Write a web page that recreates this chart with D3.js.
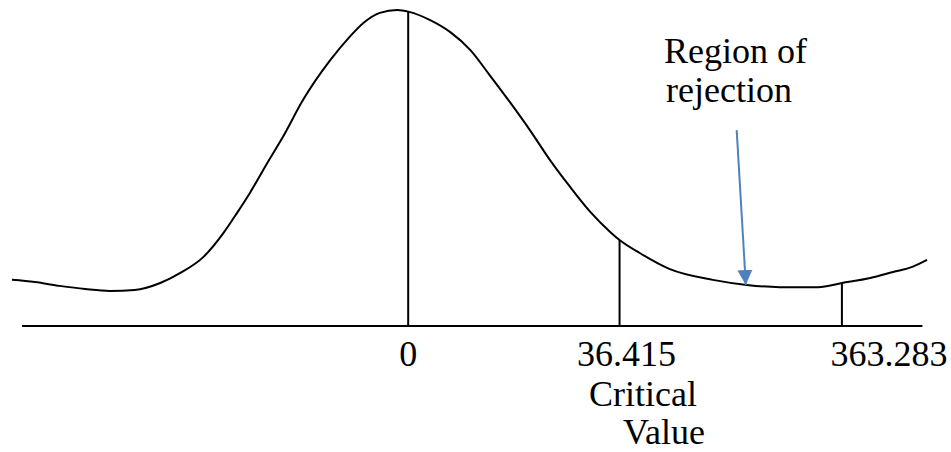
<!DOCTYPE html>
<html>
<head>
<meta charset="utf-8">
<script src="https://cdn.jsdelivr.net/npm/d3@7"></script>
<style>
  body { margin: 0; background: #fff; }
</style>
</head>
<body>
<div id="chart"></div>
<script>
// curve: position (0-100) and relative height (peak = 1)
const curvePos = [0, 2.5, 5.2, 8.0, 10.7, 13.4, 16.2, 18.4, 20.9, 23.1, 24.6, 26.0, 27.9, 29.6,
  31.8, 34.8, 36.9, 38.4, 40.2, 42.1, 43.4, 45.7, 47.9, 50.1, 52.2, 54.4, 56.6, 58.8, 61.0,
  63.2, 65.4, 66.4, 68.6, 71.9, 76.6, 80.3, 83.9, 88.1, 90.7, 93.8, 96.3, 98.4, 100];
const curveHeight = [0.146, 0.139, 0.127, 0.117, 0.111, 0.114, 0.136, 0.168, 0.218, 0.294,
  0.358, 0.421, 0.516, 0.598, 0.715, 0.842, 0.915, 0.959, 0.991, 1.000, 0.994, 0.968, 0.930,
  0.873, 0.794, 0.709, 0.620, 0.525, 0.440, 0.361, 0.297, 0.272, 0.231, 0.180, 0.146, 0.130,
  0.123, 0.123, 0.136, 0.152, 0.171, 0.187, 0.209];

// marked values on the axis
const markLabels = ["0", "36.415", "363.283"];
const markPos = [43.3, 66.4, 90.7];

const width = 951, height = 452;
const serif = "'Liberation Serif', 'Times New Roman', Times, 'DejaVu Serif', serif";

const svg = d3.select("#chart")
  .append("svg")
  .attr("width", width)
  .attr("height", height)
  .attr("font-family", serif)
  .attr("font-size", 36);

const x = d3.scaleLinear().domain([0, 100]).range([12, 927]);
const y = d3.scaleLinear().domain([0, 1]).range([326, 10]);

const curve = curvePos.map((p, i) => ({ pos: p, h: curveHeight[i] }));
const heightAt = d3.scaleLinear().domain(curvePos).range(curveHeight);

// axis line
svg.append("line")
  .attr("x1", x(1.1)).attr("x2", x(99.5))
  .attr("y1", y(0)).attr("y2", y(0))
  .attr("stroke", "#000")
  .attr("stroke-width", 2.2);

// drop lines from the curve
svg.selectAll(".drop")
  .data(markPos)
  .join("line")
  .attr("class", "drop")
  .attr("x1", d => x(d)).attr("x2", d => x(d))
  .attr("y1", y(0))
  .attr("y2", d => y(heightAt(d)))
  .attr("stroke", "#000")
  .attr("stroke-width", 2);

// the curve
const line = d3.line()
  .x(d => x(d.pos))
  .y(d => y(d.h))
  .curve(d3.curveMonotoneX);

svg.append("path")
  .datum(curve)
  .attr("d", line)
  .attr("fill", "none")
  .attr("stroke", "#000")
  .attr("stroke-width", 2);

// labels under the axis
const labelDx = [0, 7, 47];
svg.selectAll(".mark-label")
  .data(markLabels)
  .join("text")
  .attr("class", "mark-label")
  .attr("x", (d, i) => x(markPos[i]) + labelDx[i])
  .attr("y", 366)
  .attr("text-anchor", "middle")
  .text(d => d);

svg.append("text")
  .attr("x", 589).attr("y", 406)
  .text("Critical");
svg.append("text")
  .attr("x", 623).attr("y", 444)
  .text("Value");

// annotation
svg.append("text")
  .attr("x", 664).attr("y", 63)
  .text("Region of");
svg.append("text")
  .attr("x", 666).attr("y", 102)
  .text("rejection");

const arrowColor = "#4F81BD";
svg.append("defs").append("marker")
  .attr("id", "head")
  .attr("viewBox", "0 0 10 10")
  .attr("refX", 10).attr("refY", 5)
  .attr("markerUnits", "userSpaceOnUse")
  .attr("markerWidth", 15).attr("markerHeight", 16)
  .attr("orient", "auto")
  .append("path")
  .attr("d", "M0,0L10,5L0,10Z")
  .attr("fill", arrowColor);

svg.append("line")
  .attr("x1", x(79.2)).attr("y1", y(0.62))
  .attr("x2", x(80.2)).attr("y2", y(0.13))
  .attr("stroke", arrowColor)
  .attr("stroke-width", 2)
  .attr("marker-end", "url(#head)");
</script>
</body>
</html>
